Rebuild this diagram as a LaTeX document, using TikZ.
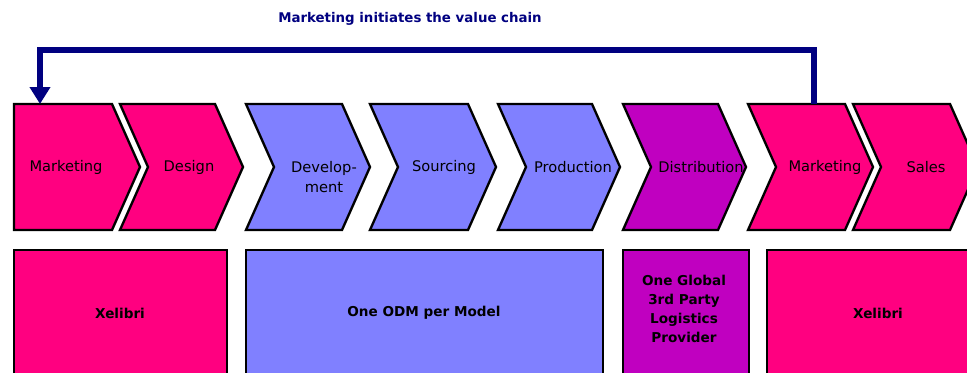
\documentclass[tikz,border=0pt]{standalone}
\usepackage{fontspec}
\setmainfont{DejaVu Sans}
\usetikzlibrary{arrows.meta}

\definecolor{chainpink}{RGB}{255,0,128}
\definecolor{chainblue}{RGB}{128,128,255}
\definecolor{chainpurple}{RGB}{192,0,192}
\definecolor{chainnavy}{RGB}{0,0,128}

\tikzset{
  stage/.style={draw=black, line width=2pt},
  stagelabel/.style={font=\fontsize{12.5}{17}\selectfont, align=center, inner sep=0pt},
  partner/.style={draw=black, line width=2.5pt},
  partnerlabel/.style={font=\bfseries\fontsize{11.6}{16.2}\selectfont, align=center, inner sep=0pt},
  feedback/.style={draw=chainnavy, line width=4.3pt, -{Triangle[width=17pt,length=14.5pt]}}
}

\begin{document}
\begin{tikzpicture}[x=0.03cm,y=-0.03cm]

\useasboundingbox (0,0) rectangle (967,373);
\clip (0,0) rectangle (967,373);

\node[font=\bfseries\fontsize{11.4}{13}\selectfont, text=chainnavy, inner sep=0pt] (title) at (410,19) {Marketing initiates the value chain};

% stages of the chain, the first one with a flat back
\filldraw[stage, fill=chainpink] (14,104) -- (112,104) -- (140,167) -- (112,230) -- (14,230) -- cycle;

\foreach \xl/\xr/\col in {120/215/chainpink, 246/342/chainblue, 370/468/chainblue, 498/592/chainblue,
                          623/718/chainpurple, 748/845/chainpink, 853/950/chainpink}
  \filldraw[stage, fill=\col] (\xl,104) -- (\xr,104) -- (\xr+28,167) -- (\xr,230) -- (\xl,230) -- (\xl+28,167) -- cycle;

\node[stagelabel] (mkt) at (66,167) {Marketing};
\node[stagelabel] (design) at (189,167) {Design};
\node[stagelabel] (devel) at (324,177) {Develop-\\ment};
\node[stagelabel] (sourcing) at (444,167) {Sourcing};
\node[stagelabel] (production) at (573,167) {Production};
\node[stagelabel] (distribution) at (701,167) {Distribution};
\node[stagelabel] (mktb) at (825,167) {Marketing};
\node[stagelabel] (sales) at (926,167) {Sales};

% loop back to the start
\coordinate (mktout) at (814,104);
\coordinate (mktin) at (40,104);
\draw[feedback] (mktout) |- (40,50) -- (mktin);

% who does what
\filldraw[partner, fill=chainpink] (14,250) rectangle (227,380);
\node[partnerlabel] (xelibri) at (120,313) {Xelibri};
\filldraw[partner, fill=chainblue] (246,250) rectangle (603,380);
\node[partnerlabel] (odm) at (424,313) {One ODM per Model};
\filldraw[partner, fill=chainpurple] (623,250) rectangle (749,380);
\node[partnerlabel] (logistics) at (684,308.5) {One Global\\3rd Party\\Logistics\\Provider};
\filldraw[partner, fill=chainpink] (767,250) rectangle (990,380);
\node[partnerlabel] (xelibrib) at (878,313) {Xelibri};

\end{tikzpicture}
\end{document}
